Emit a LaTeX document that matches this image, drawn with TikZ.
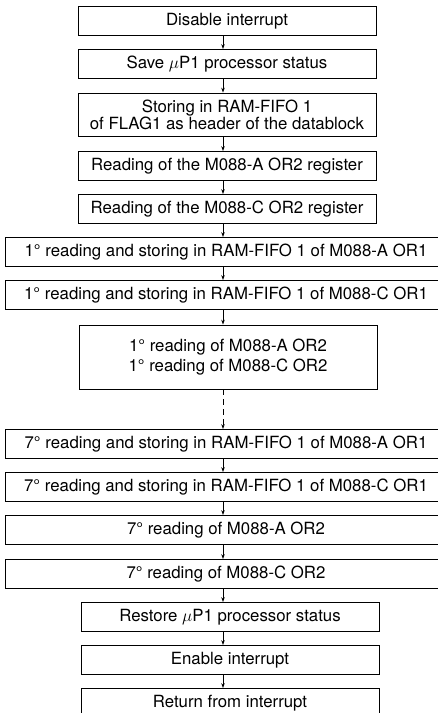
\documentclass[tikz,border=0pt]{standalone}
\usepackage{fontspec}
\setmainfont{TeX Gyre Heros}
\usetikzlibrary{arrows.meta}
\begin{document}
\begin{tikzpicture}[x=1pt,y=-1pt,font=\fontsize{16.8}{17}\selectfont,
  box/.style={draw,line width=0.8pt,minimum width=298pt,minimum height=29pt,inner sep=0pt,align=center},
  widebox/.style={box,minimum width=442pt},
  flow/.style={line width=0.7pt,-{Stealth[length=5pt,width=3.5pt]}}]
\useasboundingbox (0,0) rectangle (437,713);
\coordinate (spine) at (223,0);
\node[box] (dis) at (227,21) {Disable interrupt};
\node[box] (save) at (227,64) {Save $\mu$P1 processor status};
\node[box,minimum height=43pt] (store) at (227,114.5) {Storing in RAM-FIFO 1\\of FLAG1 as header of the datablock};
\node[box] (readA) at (227,166) {Reading of the M088-A OR2 register};
\node[box] (readC) at (227,209) {Reading of the M088-C OR2 register};
\node[widebox] (firstA) at (226,252) {1° reading and storing in RAM-FIFO 1 of M088-A OR1};
\node[widebox] (firstC) at (226,295) {1° reading and storing in RAM-FIFO 1 of M088-C OR1};
\node[box,minimum height=64pt] (firstOR) at (228,357) {1° reading of M088-A OR2\\[3pt]1° reading of M088-C OR2};
\node[widebox] (sevA) at (226,444) {7° reading and storing in RAM-FIFO 1 of M088-A OR1};
\node[widebox] (sevC) at (226,487) {7° reading and storing in RAM-FIFO 1 of M088-C OR1};
\node[widebox] (sevORA) at (226,530) {7° reading of M088-A OR2};
\node[widebox] (sevORC) at (226,574) {7° reading of M088-C OR2};
\node[box] (rest) at (230,617) {Restore $\mu$P1 processor status};
\node[box] (ena) at (230,660) {Enable interrupt};
\node[box] (ret) at (230,703) {Return from interrupt};
% connectors
\foreach \a/\b in {dis/save,save/store,store/readA,readA/readC,readC/firstA,firstA/firstC,firstC/firstOR,
  sevA/sevC,sevC/sevORA,sevORA/sevORC,sevORC/rest,rest/ena,ena/ret}
  \draw[flow] (\a.south -| spine) -- (\b.north -| spine);
\draw[flow,dash pattern=on 6pt off 4pt] (firstOR.south -| spine) -- (sevA.north -| spine);
\end{tikzpicture}
\end{document}
